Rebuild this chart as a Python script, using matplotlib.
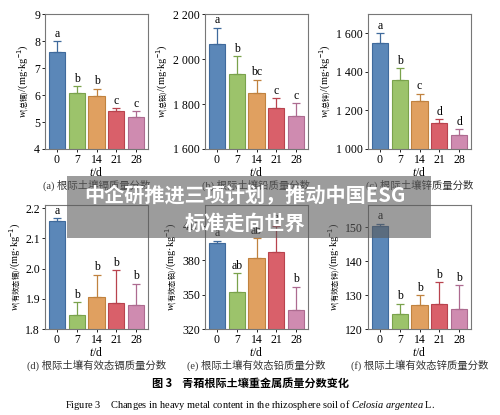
import matplotlib.pyplot as plt
from matplotlib.ticker import FuncFormatter
from matplotlib.patches import Rectangle

plt.rcParams['font.family'] = ['Liberation Serif', 'Noto Sans CJK SC']
plt.rcParams['mathtext.fontset'] = 'custom'
plt.rcParams['mathtext.rm'] = 'Noto Sans CJK SC'
plt.rcParams['mathtext.it'] = 'Liberation Serif:italic'
plt.rcParams['font.size'] = 8

days = ['0', '7', '14', '21', '28']
colors = ['#5b87b8', '#9cc36b', '#e0a060', '#d9606a', '#cf8bb0']
edges = ['#3f6a9c', '#7aa24c', '#c0823f', '#b8434e', '#ad6b90']

cd_total = [7.6, 6.08, 5.95, 5.4, 5.18]
cd_total_err = [0.4, 0.25, 0.28, 0.12, 0.22]
cd_total_sig = ['a', 'b', 'b', 'c', 'c']

pb_total = [2065, 1935, 1848, 1783, 1748]
pb_total_err = [74, 78, 61, 43, 56]
pb_total_sig = ['a', 'b', 'bc', 'c', 'c']

zn_total = [1549, 1359, 1251, 1133, 1072]
zn_total_err = [51, 62, 36, 21, 31]
zn_total_sig = ['a', 'b', 'c', 'd', 'd']

cd_avail = [2.157, 1.848, 1.905, 1.886, 1.88]
cd_avail_err = [0.01, 0.04, 0.075, 0.11, 0.07]
cd_avail_sig = ['a', 'b', 'b', 'b', 'b']

pb_avail = [395, 352.6, 382, 387, 337]
pb_avail_err = [2, 16, 17, 23, 20]
pb_avail_sig = ['a', 'ab', 'ab', 'a', 'b']

zn_avail = [150.2, 124.5, 127.0, 127.3, 125.9]
zn_avail_err = [0.8, 3.0, 3.0, 6.5, 7.0]
zn_avail_sig = ['a', 'b', 'b', 'b', 'b']

panels = [
    (cd_total, cd_total_err, cd_total_sig, (4, 9), [4, 5, 6, 7, 8, 9], '总镉', '(a) 根际土壤镉质量分数', [0.09, 0.641, 0.206, 0.325]),
    (pb_total, pb_total_err, pb_total_sig, (1600, 2200), [1600, 1800, 2000, 2200], '总铅', '(b) 根际土壤铅质量分数', [0.41, 0.641, 0.206, 0.325]),
    (zn_total, zn_total_err, zn_total_sig, (1000, 1700), [1000, 1200, 1400, 1600], '总锌', '(c) 根际土壤锌质量分数', [0.736, 0.641, 0.206, 0.325]),
    (cd_avail, cd_avail_err, cd_avail_sig, (1.8, 2.21), [1.8, 1.9, 2.0, 2.1, 2.2], '有效态镉', '(d) 根际土壤有效态镉质量分数', [0.09, 0.207, 0.206, 0.299]),
    (pb_avail, pb_avail_err, pb_avail_sig, (320, 428), [320, 350, 380, 410], '有效态铅', '(e) 根际土壤有效态铅质量分数', [0.41, 0.207, 0.206, 0.299]),
    (zn_avail, zn_avail_err, zn_avail_sig, (120, 156.5), [120, 130, 140, 150], '有效态锌', '(f) 根际土壤有效态锌质量分数', [0.736, 0.207, 0.206, 0.299]),
]


def thousands(v, pos):
    if v >= 1000:
        return '{:,.0f}'.format(v).replace(',', ' ')
    if v < 3:
        return '{:.1f}'.format(v)
    return '{:.0f}'.format(v)


fig = plt.figure(figsize=(5.0, 4.15), dpi=100)
for vals, errs, sig, ylim, ticks, sub, cap, rect in panels:
    ax = fig.add_axes(rect)
    x = range(len(days))
    ax.bar(x, vals, width=0.82, color=colors, edgecolor=edges, linewidth=0.8)
    for i in x:
        ax.errorbar(i, vals[i], yerr=[[0], [errs[i]]], color=edges[i],
                    capsize=3, elinewidth=0.9, capthick=0.9)
        ax.text(i, vals[i] + errs[i] + (ylim[1] - ylim[0]) * 0.01, sig[i],
                ha='center', va='bottom', fontsize=8.5)
    ax.set_ylim(ylim)
    ax.set_xlim(-0.6, 4.6)
    ax.set_yticks(ticks)
    ax.yaxis.set_major_formatter(FuncFormatter(thousands))
    ax.set_xticks(list(x))
    ax.set_xticklabels(days)
    ax.tick_params(length=2, width=0.6, pad=1.5, labelsize=8.5)
    for s in ax.spines.values():
        s.set_color('#777777')
        s.set_linewidth(0.8)
    ax.set_xlabel(r'$t$/d', fontsize=8.5, labelpad=0)
    ax.set_ylabel(r'$w_{\mathrm{(' + sub + ')}}$/(mg·kg$^{-1}$)', fontsize=7.5, labelpad=2)
    cx = rect[0] + rect[2] / 2
    cy = rect[1] - 0.087
    fig.text(cx, cy, cap, ha='center', va='center', fontsize=7.5, color='#333333')

fig.text(0.5, 0.077, '图 3    青葙根际土壤重金属质量分数变化', ha='center', va='center',
         fontsize=8, fontweight='bold', family=['Noto Sans CJK SC'])
fig.text(0.5, 0.024, r'Figure 3    Changes in heavy metal content in the rhizosphere soil of $Celosia$ $argentea$ L.',
         ha='center', va='center', fontsize=7.5)

fig.patches.append(Rectangle((0.134, 0.427), 0.728, 0.149, transform=fig.transFigure,
                             facecolor='#5a5a5a', alpha=0.6, edgecolor='none', zorder=10))
fig.text(0.49, 0.528, '中企研推进三项计划，推动中国ESG', ha='center', va='center', fontsize=14.5,
         color='white', fontweight='bold', family=['Noto Sans CJK SC'], zorder=11)
fig.text(0.49, 0.463, '标准走向世界', ha='center', va='center', fontsize=14.5,
         color='white', fontweight='bold', family=['Noto Sans CJK SC'], zorder=11)

fig.savefig('out.png', dpi=100)
